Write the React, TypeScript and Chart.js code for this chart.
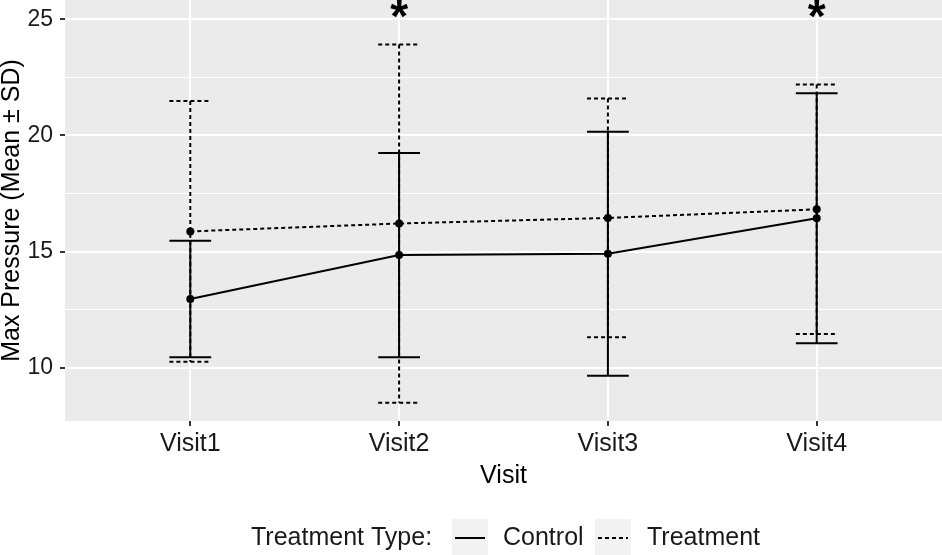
import React, { useEffect, useRef } from 'react';
import { Chart, registerables } from 'chart.js';

Chart.register(...registerables);

const visits = ['Visit1', 'Visit2', 'Visit3', 'Visit4'];
const controlMean = [12.96, 14.85, 14.91, 16.44];
const controlSD = [2.51, 4.4, 5.25, 5.38];
const treatmentMean = [15.87, 16.21, 16.45, 16.82];
const treatmentSD = [5.61, 7.71, 5.14, 5.37];
const yTicks = [10, 12.5, 15, 17.5, 20, 22.5, 25];
const significantVisits = ['Visit2', 'Visit4'];
const significanceY = 25;
const legendTitle = 'Treatment Type:';
const seriesNames = ['Control', 'Treatment'];

const FAMILY = '"Liberation Sans", Arial, Helvetica, sans-serif';
const DASH = [4, 3];

const panelBg = {
  id: 'panelBg',
  beforeDraw(chart: any) {
    const { ctx, chartArea: a } = chart;
    ctx.save();
    ctx.fillStyle = '#EBEBEB';
    ctx.fillRect(a.left, a.top, a.right - a.left, a.bottom - a.top);
    ctx.restore();
  },
};

const errorBars = {
  id: 'errorBars',
  beforeDatasetsDraw(chart: any) {
    const ctx = chart.ctx;
    const xs = chart.scales.x;
    const ys = chart.scales.y;
    const series = [
      { mean: controlMean, sd: controlSD, dash: [] as number[] },
      { mean: treatmentMean, sd: treatmentSD, dash: DASH },
    ];
    ctx.save();
    ctx.strokeStyle = '#000000';
    ctx.lineWidth = 2;
    series.forEach((s) => {
      ctx.setLineDash(s.dash);
      s.mean.forEach((m, i) => {
        const x = xs.getPixelForValue(i + 1);
        const xl = xs.getPixelForValue(i + 1 - 0.1);
        const xr = xs.getPixelForValue(i + 1 + 0.1);
        const yt = ys.getPixelForValue(m + s.sd[i]);
        const yb = ys.getPixelForValue(m - s.sd[i]);
        ctx.beginPath();
        ctx.moveTo(xl, yt);
        ctx.lineTo(xr, yt);
        ctx.moveTo(x, yt);
        ctx.lineTo(x, yb);
        ctx.moveTo(xl, yb);
        ctx.lineTo(xr, yb);
        ctx.stroke();
      });
    });
    ctx.restore();
  },
};

const annotations = {
  id: 'annotations',
  afterDraw(chart: any) {
    const ctx = chart.ctx;
    const xs = chart.scales.x;
    const ys = chart.scales.y;
    ctx.save();
    // significance stars
    ctx.fillStyle = '#000000';
    ctx.font = `bold 46px ${FAMILY}`;
    ctx.textAlign = 'center';
    ctx.textBaseline = 'middle';
    significantVisits.forEach((v) => {
      const idx = visits.indexOf(v) + 1;
      ctx.fillText('*', xs.getPixelForValue(idx), ys.getPixelForValue(significanceY));
    });

    // legend
    const cy = 538;
    ctx.font = `25px ${FAMILY}`;
    ctx.textAlign = 'left';
    ctx.textBaseline = 'middle';
    ctx.fillStyle = '#1A1A1A';
    ctx.fillText(legendTitle, 251, cy);
    const keys = [
      { box: 452, text: 503, dash: [] as number[] },
      { box: 595, text: 647, dash: DASH },
    ];
    keys.forEach((k, i) => {
      ctx.fillStyle = '#F2F2F2';
      ctx.fillRect(k.box, 519, 36, 36);
      ctx.strokeStyle = '#000000';
      ctx.lineWidth = 2;
      ctx.setLineDash(k.dash);
      ctx.beginPath();
      ctx.moveTo(k.box + 3, cy);
      ctx.lineTo(k.box + 33, cy);
      ctx.stroke();
      ctx.setLineDash([]);
      ctx.fillStyle = '#1A1A1A';
      ctx.fillText(seriesNames[i], k.text, cy);
    });
    ctx.restore();
  },
};

export default function App() {
  const ref = useRef<HTMLCanvasElement | null>(null);

  useEffect(() => {
    if (!ref.current) return;
    const toPts = (arr: number[]) => arr.map((y, i) => ({ x: i + 1, y }));
    const chart = new Chart(ref.current, {
      type: 'line',
      data: {
        datasets: [
          {
            label: seriesNames[0],
            data: toPts(controlMean),
            borderColor: '#000000',
            backgroundColor: '#000000',
            borderWidth: 2,
            pointRadius: 4,
            pointBorderWidth: 0,
            pointBackgroundColor: '#000000',
            tension: 0,
          },
          {
            label: seriesNames[1],
            data: toPts(treatmentMean),
            borderColor: '#000000',
            backgroundColor: '#000000',
            borderWidth: 2,
            borderDash: DASH,
            pointRadius: 4,
            pointBorderWidth: 0,
            pointBackgroundColor: '#000000',
            tension: 0,
          },
        ],
      },
      options: {
        responsive: false,
        maintainAspectRatio: false,
        animation: false,
        layout: { padding: 0, autoPadding: false },
        plugins: { legend: { display: false }, tooltip: { enabled: false } },
        scales: {
          x: {
            type: 'linear',
            min: 0.4,
            max: 4.6,
            afterBuildTicks: (s: any) => {
              s.ticks = visits.map((_, i) => ({ value: i + 1 }));
            },
            ticks: {
              callback: (v: any) => visits[Math.round(Number(v)) - 1] ?? '',
              font: { size: 25, family: FAMILY },
              color: '#1A1A1A',
              padding: 3,
              maxRotation: 0,
              autoSkip: false,
            },
            grid: { color: '#FFFFFF', lineWidth: 2, tickColor: '#333333', tickLength: 5 },
            border: { display: false },
            title: {
              display: true,
              text: 'Visit',
              font: { size: 25, family: FAMILY },
              color: '#000000',
              padding: { top: 0, bottom: 64 },
            },
            afterFit: (s: any) => {
              s.height = 134;
              s.paddingLeft = 0;
              s.paddingRight = 0;
            },
          },
          y: {
            type: 'linear',
            min: 7.71,
            max: 25.83,
            afterBuildTicks: (s: any) => {
              s.ticks = yTicks.map((v) => ({ value: v }));
            },
            ticks: {
              callback: (v: any) => (Number(v) % 5 === 0 ? String(v) : ''),
              font: { size: 23, family: FAMILY },
              color: '#1A1A1A',
              padding: 7,
              autoSkip: false,
            },
            grid: {
              color: '#FFFFFF',
              lineWidth: (c: any) => (c.tick && c.tick.value % 5 === 0 ? 2 : 1),
              tickColor: (c: any) => (c.tick && c.tick.value % 5 === 0 ? '#333333' : 'rgba(0,0,0,0)'),
              tickLength: 5,
            },
            border: { display: false },
            title: {
              display: true,
              text: 'Max Pressure (Mean ± SD)',
              font: { size: 25, family: FAMILY, lineHeight: 1 },
              color: '#000000',
              padding: 0,
            },
            afterFit: (s: any) => {
              s.width = 65;
              s.paddingTop = 0;
              s.paddingBottom = 0;
            },
          },
        },
      } as any,
      plugins: [panelBg, errorBars, annotations],
    });
    return () => chart.destroy();
  }, []);

  return (
    <div style={{ position: 'absolute', left: 0, top: 0, width: 942, height: 555, background: '#FFFFFF' }}>
      <canvas ref={ref} width={942} height={555} style={{ display: 'block', width: 942, height: 555 }} />
    </div>
  );
}
